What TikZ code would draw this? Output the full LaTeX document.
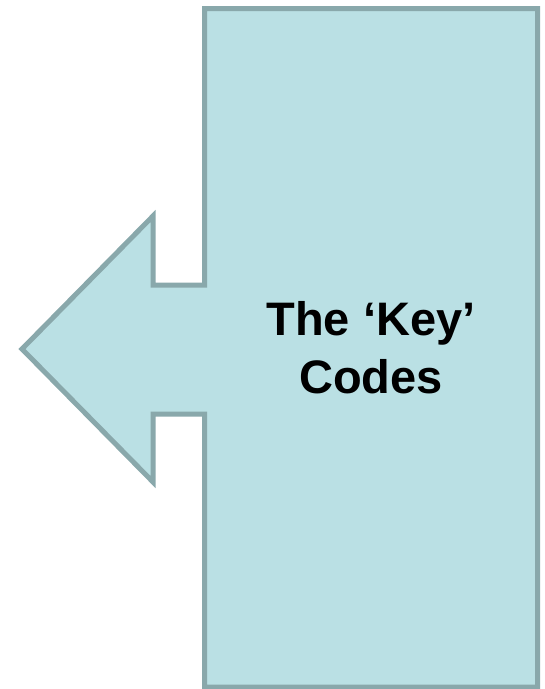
\documentclass[tikz,border=0pt]{standalone}
\usepackage{fontspec}
\setmainfont{Liberation Sans}
\usetikzlibrary{calc}
\definecolor{keyfill}{HTML}{BAE0E4}
\definecolor{keyline}{HTML}{89A8AB}

\begin{document}
\begin{tikzpicture}[x=1pt,y=-1pt]
\useasboundingbox (0,0) rectangle (545,689);

% box corners
\coordinate (TL) at (204.5,8.5);
\coordinate (TR) at (537.5,8.5);
\coordinate (BR) at (537.5,687);
\coordinate (BL) at (204.5,687);

% arrow pointing left
\coordinate (S1) at (204.5,285);
\coordinate (S2) at (153,285);
\coordinate (H1) at (153,216);
\coordinate (Tip) at (22,349);
\coordinate (H2) at (153,482);
\coordinate (S3) at (153,414);
\coordinate (S4) at (204.5,414);

\draw[line width=5pt,color=keyline,fill=keyfill,line join=miter]
  (TL) -- (TR) -- (BR) -- (BL) -- (S4) -- (S3) -- (H2) -- (Tip)
  -- (H1) -- (S2) -- (S1) -- cycle;

\node[font=\bfseries\fontsize{47}{58}\selectfont,align=center] (Lbl)
  at ($(TL)!0.5!(BR)+(0,-0.5)$) {The ‘Key’\\Codes};

\end{tikzpicture}
\end{document}
